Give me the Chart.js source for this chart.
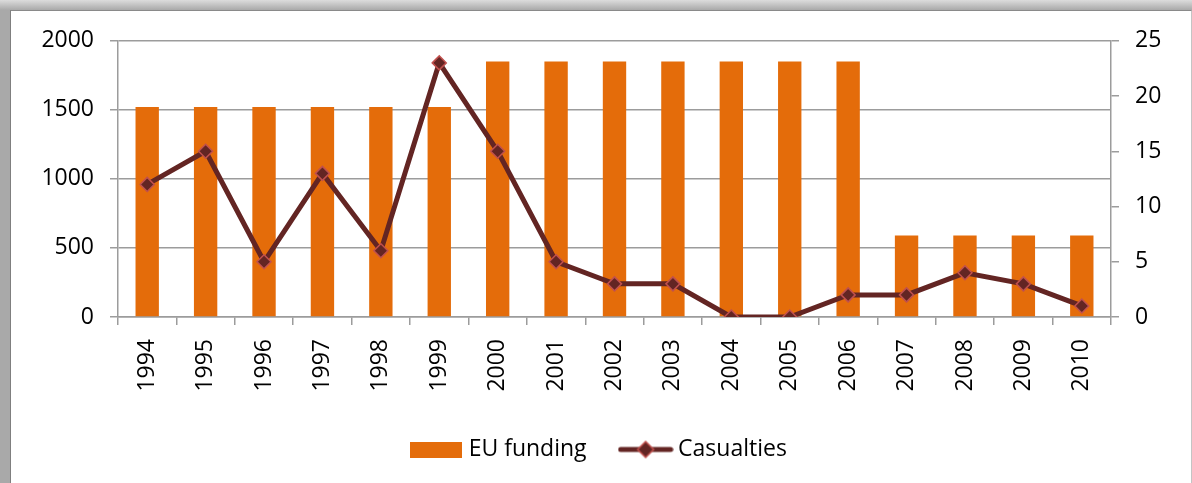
<!DOCTYPE html>
<html>
<head>
<meta charset="utf-8">
<script src="https://cdn.jsdelivr.net/npm/chart.js@4/dist/chart.umd.min.js"></script>
<style>
  html, body { margin: 0; padding: 0; }
  body {
    width: 1192px; height: 483px; overflow: hidden; position: relative;
    background: linear-gradient(to bottom, #dcdcdc 0px, #a9a9a9 10px, #a9a9a9 100%);
  }
  #frame {
    position: absolute; left: 10px; top: 10px; width: 1180px; height: 473px;
    background: #fff;
    border-left: 1px solid #7f7f7f; border-top: 1px solid #8a8a8a;
    border-right: 1px solid #c4c4c4;
  }
  #wrap { position: absolute; left: 0; top: 0; width: 1180px; height: 472px; }
</style>
</head>
<body>
<div id="frame"><div id="wrap"><canvas id="chart"></canvas></div></div>
<script>
const years = ["1994", "1995", "1996", "1997", "1998", "1999", "2000", "2001", "2002",
  "2003", "2004", "2005", "2006", "2007", "2008", "2009", "2010"];
const funding = [1520, 1520, 1520, 1520, 1520, 1520, 1850, 1850, 1850, 1850, 1850, 1850, 1850,
  590, 590, 590, 590];
const casualties = [12, 15, 5, 13, 6, 23, 15, 5, 3, 3, 0, 0, 2, 2, 4, 3, 1];
const fundingTicks = [0, 500, 1000, 1500, 2000];
const casualtyTicks = [0, 5, 10, 15, 20, 25];

const BAR = "#e46c0a";
const LINE = "#632523";
const MARK_EDGE = "#c0504d";
const GRID = "#9c9c9c";
const FONT = { family: "'Open Sans', sans-serif", size: 23 };

// legend icons: a wide orange block and a line with a diamond
function barIcon() {
  const c = document.createElement("canvas");
  c.width = 52; c.height = 16;
  const g = c.getContext("2d");
  g.fillStyle = BAR;
  g.fillRect(0, 0, 52, 16);
  return c;
}
function lineIcon() {
  const c = document.createElement("canvas");
  c.width = 56; c.height = 20;
  const g = c.getContext("2d");
  g.strokeStyle = LINE; g.lineWidth = 5; g.lineCap = "round";
  g.beginPath(); g.moveTo(3, 10); g.lineTo(53, 10); g.stroke();
  g.beginPath();
  g.moveTo(28, 2); g.lineTo(36, 10); g.lineTo(28, 18); g.lineTo(20, 10); g.closePath();
  g.fillStyle = LINE; g.fill();
  g.strokeStyle = MARK_EDGE; g.lineWidth = 1.5; g.stroke();
  return c;
}
const icons = [barIcon(), lineIcon()];

new Chart(document.getElementById("chart"), {
  data: {
    labels: years,
    datasets: [
      {
        type: "bar",
        label: "EU funding",
        data: funding,
        yAxisID: "y",
        backgroundColor: BAR,
        categoryPercentage: 1,
        barPercentage: 0.4,
        order: 1,
      },
      {
        type: "line",
        label: "Casualties",
        data: casualties,
        yAxisID: "y2",
        borderColor: LINE,
        borderWidth: 5,
        pointStyle: "rectRot",
        pointRadius: 7,
        pointBackgroundColor: LINE,
        pointBorderColor: MARK_EDGE,
        pointBorderWidth: 1.5,
        tension: 0,
        order: 0,
      },
    ],
  },
  options: {
    responsive: true,
    maintainAspectRatio: false,
    animation: false,
    layout: { padding: { top: 29, bottom: 12, left: 0, right: 0 } },
    plugins: {
      tooltip: { enabled: false },
      legend: {
        position: "bottom",
        labels: {
          font: FONT,
          color: "#000",
          padding: 38,
          usePointStyle: true,
          pointStyleWidth: 42,
          generateLabels: (chart) =>
            chart.data.datasets.map((ds, i) => ({
              text: ds.label,
              pointStyle: icons[i],
              datasetIndex: i,
              fontColor: "#000",
              lineWidth: 0,
            })),
        },
      },
    },
    scales: {
      x: {
        offset: true,
        grid: { offset: true, drawOnChartArea: false, tickLength: 8, color: GRID, lineWidth: 1.5 },
        border: { color: GRID, width: 1.5 },
        ticks: { font: FONT, color: "#000", minRotation: 90, maxRotation: 90, padding: 14 },
        afterFit: (s) => { s.height = 83; },
      },
      y: {
        position: "left",
        min: 0,
        max: 2000,
        afterBuildTicks: (s) => { s.ticks = fundingTicks.map((v) => ({ value: v })); },
        grid: { color: GRID, lineWidth: 1.5, tickLength: 8 },
        border: { color: GRID, width: 1.5 },
        ticks: { font: FONT, color: "#000", padding: 16, callback: (v) => String(v) },
        afterFit: (s) => { s.width = 107; },
      },
      y2: {
        position: "right",
        min: 0,
        max: 25,
        afterBuildTicks: (s) => { s.ticks = casualtyTicks.map((v) => ({ value: v })); },
        grid: { drawOnChartArea: false, color: GRID, lineWidth: 1.5, tickLength: 8 },
        border: { color: GRID, width: 1.5 },
        ticks: { font: FONT, color: "#000", padding: 16, callback: (v) => String(v) },
        afterFit: (s) => { s.width = 80; },
      },
    },
  },
});
</script>
</body>
</html>
